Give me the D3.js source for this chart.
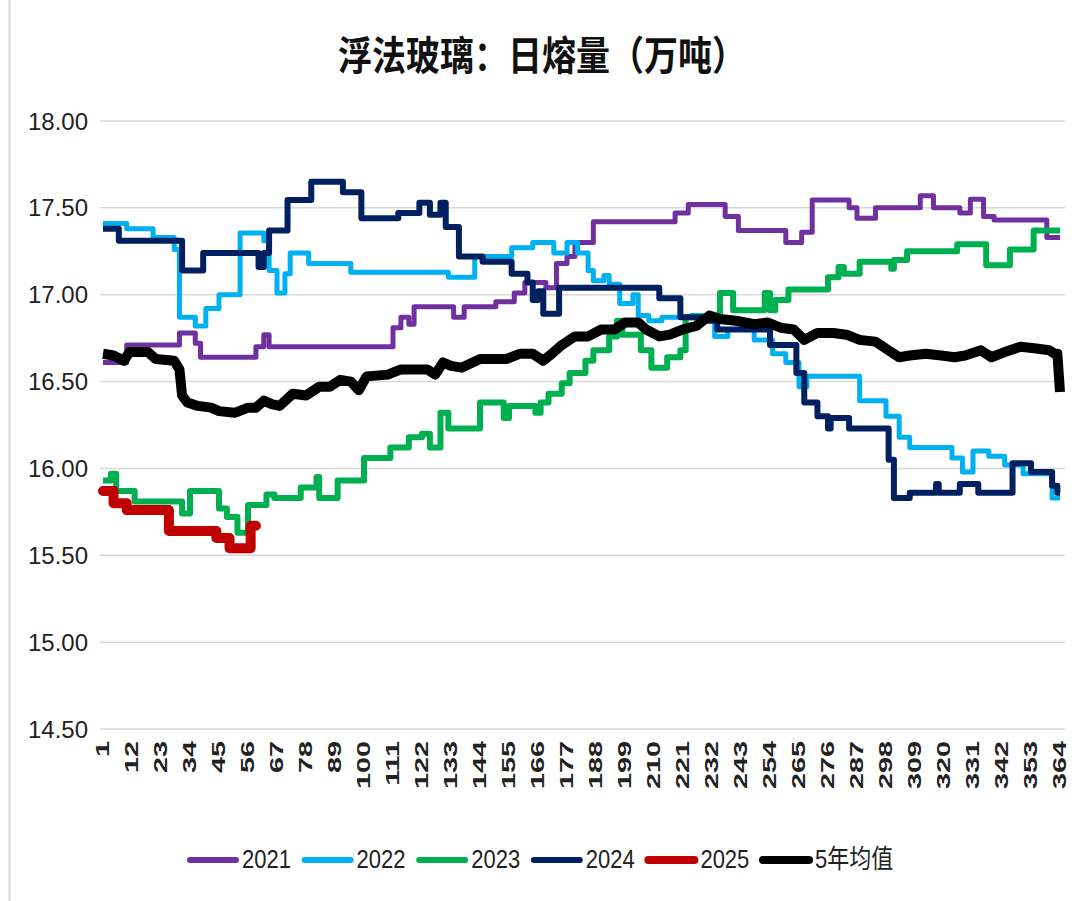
<!DOCTYPE html>
<html><head><meta charset="utf-8">
<script src="https://cdn.jsdelivr.net/npm/d3@7"></script>
<style>body{margin:0;background:#fff}svg{display:block}</style>
</head><body>
<svg id="c" width="1082" height="901"></svg>
<script>
const title = "浮法玻璃：日熔量（万吨）";
const yTicks = [14.5, 15.0, 15.5, 16.0, 16.5, 17.0, 17.5, 18.0];
const xTickLabels = [1,12,23,34,45,56,67,78,89,100,111,122,133,144,155,166,177,188,199,210,221,232,243,254,265,276,287,298,309,320,331,342,353,364];
const seriesNames = ["2021","2022","2023","2024","2025","5年均值"];

const days2021 = [1,10,30,36,38,59,62,64,111,114,117,119,134,138,150,157,161,169,173,177,180,187,218,223,237,242,260,266,270,284,287,294,311,316,326,330,335,339,359,364];
const vals2021 = [16.61,16.71,16.78,16.72,16.64,16.70,16.77,16.70,16.81,16.87,16.83,16.93,16.87,16.93,16.96,17.01,17.07,17.04,17.18,17.22,17.30,17.42,17.47,17.52,17.45,17.37,17.30,17.36,17.545,17.50,17.44,17.50,17.57,17.50,17.47,17.55,17.45,17.43,17.33,17.33];

const days2022 = [1,10,20,28,30,36,40,45,53,62,64,67,70,72,79,95,132,142,156,164,172,177,181,185,187,191,193,197,202,204,208,213,224,233,238,248,255,260,265,268,288,298,303,307,323,327,331,337,343,350,361,364];
const vals2022 = [17.41,17.38,17.33,17.26,16.87,16.82,16.92,17.00,17.355,17.31,17.14,17.01,17.12,17.24,17.18,17.13,17.10,17.22,17.27,17.30,17.24,17.30,17.24,17.14,17.08,17.11,17.06,16.95,17.00,16.88,16.85,16.87,16.88,16.76,16.80,16.74,16.66,16.61,16.47,16.53,16.39,16.30,16.18,16.12,16.06,15.98,16.10,16.07,16.02,15.97,15.83,15.83];

const days2023 = [1,4,6,13,31,34,45,48,52,56,63,66,76,82,83,90,100,110,117,122,125,129,132,144,153,155,165,167,170,175,178,184,187,193,196,198,205,209,215,220,222,235,240,252,254,256,261,276,280,282,288,300,301,306,325,336,345,354,364];
const vals2023 = [15.93,15.97,15.87,15.81,15.74,15.87,15.77,15.72,15.63,15.79,15.85,15.83,15.89,15.95,15.83,15.93,16.06,16.12,16.18,16.20,16.12,16.32,16.23,16.38,16.29,16.36,16.32,16.38,16.43,16.49,16.55,16.62,16.68,16.76,16.85,16.77,16.68,16.58,16.64,16.68,16.87,17.01,16.91,17.01,16.91,16.97,17.03,17.10,17.16,17.12,17.19,17.15,17.20,17.25,17.29,17.17,17.26,17.37,17.37];

const days2024 = [1,7,31,39,60,62,64,71,80,92,99,113,121,125,129,131,136,145,156,162,164,166,168,174,212,220,228,234,254,264,267,272,276,277,284,299,301,307,317,318,326,333,346,353,361,363,364];
const vals2024 = [17.38,17.31,17.14,17.24,17.16,17.24,17.37,17.545,17.65,17.59,17.44,17.47,17.53,17.46,17.53,17.39,17.22,17.19,17.12,17.07,16.97,17.02,16.89,17.04,16.98,16.87,16.85,16.80,16.71,16.55,16.38,16.30,16.23,16.29,16.23,16.05,15.83,15.86,15.91,15.86,15.91,15.86,16.03,15.98,15.90,15.86,15.86];

const days2025 = [1,5,10,26,44,49,57,59];
const vals2025 = [15.87,15.80,15.76,15.64,15.60,15.54,15.67,15.67];

const daysAvg = [1,5,9,11,18,21,28,30,31,33,37,42,45,51,56,59,62,65,68,73,78,83,87,91,95,98,101,109,114,124,127,130,133,137,144,154,159,164,168,172,175,180,185,190,195,199,204,207,212,216,221,226,231,235,241,248,253,258,263,267,272,278,283,288,294,299,303,307,313,319,324,328,334,338,343,349,355,360,362,363,364];
const valsAvg = [16.66,16.65,16.62,16.67,16.67,16.63,16.62,16.57,16.42,16.38,16.36,16.35,16.33,16.32,16.35,16.35,16.39,16.37,16.36,16.43,16.42,16.47,16.47,16.51,16.50,16.45,16.53,16.54,16.57,16.57,16.54,16.61,16.59,16.58,16.63,16.63,16.66,16.66,16.62,16.67,16.71,16.76,16.76,16.80,16.80,16.84,16.84,16.80,16.76,16.77,16.80,16.82,16.88,16.86,16.85,16.83,16.84,16.81,16.80,16.74,16.78,16.78,16.77,16.74,16.73,16.68,16.64,16.65,16.66,16.65,16.64,16.65,16.68,16.64,16.67,16.70,16.69,16.68,16.66,16.66,16.44];

const colors = ["#7030A0","#00B0F0","#00B050","#002060","#C00000","#000000"];
const widths = [5,5,6,6,10,10];

const svg = d3.select("#c");
svg.append("rect").attr("width",1082).attr("height",901).attr("fill","#fff");
svg.append("line").attr("x1",9.5).attr("x2",9.5).attr("y1",0).attr("y2",901).attr("stroke","#d6d6d6").attr("stroke-width",2);

const x = d3.scaleLinear().domain([1,364]).range([103,1060]);
const y = d3.scaleLinear().domain([14.5,18]).range([729,121]);

// title
svg.append("text").attr("transform","translate(542,70) scale(1,1.18)")
  .attr("text-anchor","middle").attr("font-family","'Noto Sans CJK SC'")
  .attr("font-weight","bold").attr("font-size",34).attr("fill","#111").text(title);

// grid
svg.append("g").selectAll("line").data(yTicks).join("line")
  .attr("x1",100).attr("x2",1065).attr("y1",d=>y(d)).attr("y2",d=>y(d))
  .attr("stroke","#d9d9d9").attr("stroke-width",1.5);

// y labels
svg.append("g").selectAll("text").data(yTicks).join("text")
  .attr("x",88).attr("y",d=>y(d)).attr("dy","0.36em").attr("text-anchor","end")
  .attr("font-family","'Liberation Sans',Arial,sans-serif").attr("font-size",24)
  .attr("fill","#222").text(d=>d.toFixed(2));

// x labels
svg.append("g").selectAll("text").data(xTickLabels).join("text")
  .attr("transform",d=>`translate(${x(d)+6},741) rotate(-90) scale(1.6,1)`)
  .attr("text-anchor","end")
  .attr("font-family","'Liberation Sans',Arial,sans-serif").attr("font-weight","bold")
  .attr("font-size",18).attr("fill","#222").text(d=>d);

const data = [
  [days2021, vals2021], [days2022, vals2022], [days2023, vals2023],
  [days2024, vals2024], [days2025, vals2025], [daysAvg, valsAvg]
];
const stepLine = d3.line().x(d=>x(d[0])).y(d=>y(d[1])).curve(d3.curveStepAfter);
const avgLine = d3.line().x(d=>x(d[0])).y(d=>y(d[1])).curve(d3.curveLinear);

data.forEach(([ds, vs], i) => {
  const pts = ds.map((d,j)=>[d, vs[j]]);
  svg.append("path").datum(pts)
    .attr("d", i===5 ? avgLine : stepLine)
    .attr("fill","none").attr("stroke",colors[i]).attr("stroke-width",widths[i])
    .attr("stroke-linejoin","round").attr("stroke-linecap", i===4 ? "round":"butt");
});

// legend
const lg = svg.append("g");
seriesNames.forEach((name,i)=>{
  const lx = 190 + i*114.6;
  lg.append("line").attr("x1",lx).attr("x2",lx+46).attr("y1",860).attr("y2",860)
    .attr("stroke",colors[i]).attr("stroke-width", i>=4 ? 8 : 6).attr("stroke-linecap","round");
  lg.append("text").attr("transform",`translate(${lx+52},868) scale(1,1.2)`)
    .attr("font-family","'Liberation Sans','Noto Sans CJK SC',sans-serif").attr("font-size",22)
    .attr("fill","#222").text(name);
});
</script>
</body></html>
